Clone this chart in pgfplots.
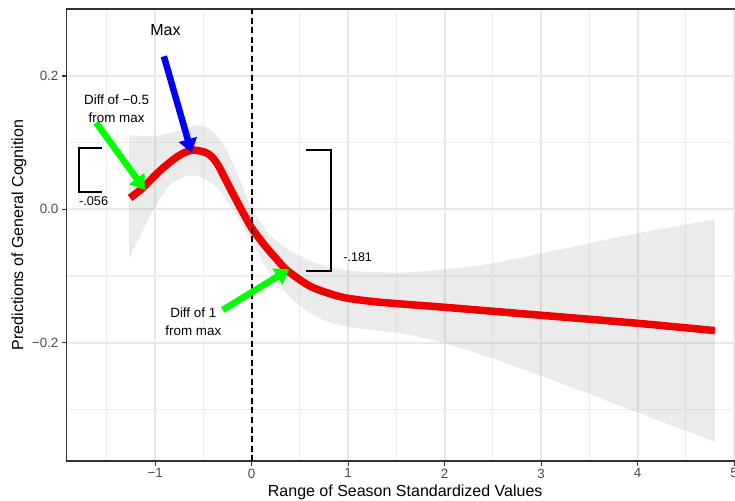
\documentclass[border=0pt]{standalone}
\usepackage{pgfplots}
\pgfplotsset{compat=1.18}
\usepgfplotslibrary{fillbetween}
\usetikzlibrary{arrows.meta}
\usepackage{fontspec}
\setmainfont{Liberation Sans}
\definecolor{gridc}{HTML}{E8E8E8}
\definecolor{gridm}{HTML}{EEEEEE}
\definecolor{axc}{HTML}{333333}
\definecolor{tickc}{HTML}{4D4D4D}
\definecolor{bandc}{HTML}{999999}
\definecolor{curvec}{HTML}{EE0000}
\definecolor{limeg}{HTML}{00FF00}
\definecolor{pureblue}{HTML}{0000FF}
\begin{document}
\begin{tikzpicture}
\begin{axis}[
  at={(0pt,0pt)}, anchor=south west,
  scale only axis, width=677.2pt, height=452pt,
  xmin=-1.918, xmax=5.1, ymin=-0.3776, ymax=0.3005,
  xtick={-1,0,1,2,3,4,5}, xticklabels={−1,0,1,2,3,4,5},
  ytick={-0.2,0,0.2}, yticklabels={−0.2,0.0,0.2},
  minor xtick={-1.5,-0.5,0.5,1.5,2.5,3.5,4.5},
  minor ytick={-0.3,-0.1,0.1},
  grid=both,
  major grid style={gridc, line width=1.8pt},
  minor grid style={gridm, line width=1.1pt},
  axis line style={axc, line width=1.1pt},
  tick pos=left,
  tick align=outside, major tick length=4.5pt, minor tick length=0pt,
  tick style={axc, line width=1.1pt},
  ticklabel style={font=\fontsize{13.4}{16}\selectfont, text=tickc},
  xticklabel style={anchor=north, inner sep=0pt, yshift=-3pt},
  yticklabel style={anchor=east, inner sep=0pt, xshift=-3.5pt},
  xlabel={Range of Season Standardized Values},
  ylabel={Predictions of General Cognition},
  every axis x label/.style={at={(axis description cs:0.5,-0.0796)}, anchor=base, font=\fontsize{16}{19}\selectfont},
  every axis y label/.style={at={(axis description cs:-0.0703,0.5)}, anchor=center, rotate=90, font=\fontsize{16}{19}\selectfont},
  clip=false,
]
% confidence band
\addplot[draw=none, smooth, name path=U, forget plot] coordinates {
(-1.27,0.111) (-1.02,0.110) (-0.85,0.114) (-0.67,0.122) (-0.52,0.126)
(-0.36,0.111) (-0.22,0.078) (-0.09,0.033) (0.01,-0.001) (0.19,-0.039)
(0.40,-0.062) (0.68,-0.081) (1.02,-0.092) (1.54,-0.095) (2.0,-0.090)
(2.5,-0.081) (3.0,-0.066) (3.5,-0.051) (4.0,-0.036) (4.8,-0.015)};
\addplot[draw=none, smooth, name path=L, forget plot] coordinates {
(-1.27,-0.074) (-1.16,-0.042) (-1.02,-0.001) (-0.85,0.036) (-0.67,0.050)
(-0.54,0.049) (-0.36,0.033) (-0.19,-0.001) (-0.05,-0.036) (0.09,-0.072)
(0.19,-0.096) (0.40,-0.132) (0.68,-0.162) (1.02,-0.177) (1.54,-0.186)
(2.0,-0.201) (2.5,-0.224) (3.0,-0.250) (3.5,-0.277) (4.0,-0.305) (4.8,-0.349)};
\addplot[fill=bandc, fill opacity=0.2, draw=none, forget plot] fill between[of=U and L];
% fitted curve
\addplot[curvec, line width=7.5pt, smooth, line cap=butt] coordinates {
(-1.26,0.017) (-1.13,0.032) (-0.95,0.058) (-0.77,0.079) (-0.62,0.0887)
(-0.46,0.084) (-0.36,0.069) (-0.24,0.036) (-0.12,0.003) (0.0,-0.028)
(0.14,-0.055) (0.26,-0.075) (0.37,-0.092) (0.60,-0.115) (0.84,-0.128)
(1.02,-0.134) (1.3,-0.139) (1.64,-0.143) (2.0,-0.147) (3.0,-0.159)
(4.0,-0.171) (4.8,-0.182)};
% dashed zero line
\addplot[black, line width=2pt, dash pattern=on 6pt off 3.5pt] coordinates {(0,-0.3776) (0,0.3005)};
% brackets
\draw[black, line width=1.3pt] (axis cs:-1.554,0.0919) -- (axis cs:-1.790,0.0919) -- (axis cs:-1.790,0.0260) -- (axis cs:-1.554,0.0260);
\node[anchor=west, inner sep=0pt, font=\fontsize{12.7}{15}\selectfont] at (axis cs:-1.790,0.0125) {-.056};
\draw[black, line width=1.3pt] (axis cs:0.563,0.0889) -- (axis cs:0.822,0.0889) -- (axis cs:0.822,-0.0926) -- (axis cs:0.563,-0.0926);
\node[anchor=west, inner sep=0pt, font=\fontsize{12.5}{15}\selectfont] at (axis cs:0.949,-0.072) {-.181};
% arrows
\draw[pureblue, line width=6.5pt, -{Triangle[length=14pt,width=18pt]}] (axis cs:-0.910,0.2295) -- (axis cs:-0.622,0.0846);
\node[font=\fontsize{16}{19}\selectfont] at (axis cs:-0.894,0.269) {Max};
\draw[limeg, line width=6.5pt, -{Triangle[length=14pt,width=18pt]}] (axis cs:-1.613,0.130) -- (axis cs:-1.106,0.029);
\node[align=center, inner sep=0pt, font=\fontsize{13.4}{18}\selectfont] at (axis cs:-1.40,0.1506) {Diff of −0.5\\from max};
\draw[limeg, line width=6.5pt, -{Triangle[length=14pt,width=18pt]}] (axis cs:-0.301,-0.151) -- (axis cs:0.390,-0.090);
\node[align=center, inner sep=0pt, font=\fontsize{13.4}{18}\selectfont] at (axis cs:-0.605,-0.169) {Diff of 1\\from max};
\end{axis}
\pgfresetboundingbox
\path (-66.6pt,-39pt) rectangle (668.4pt,461pt);
\end{tikzpicture}
\end{document}
